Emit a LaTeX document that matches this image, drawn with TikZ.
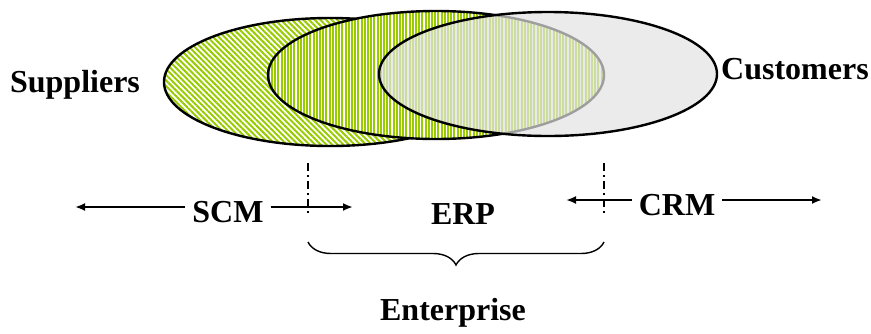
\documentclass[tikz,border=0pt]{standalone}
\usepackage{fontspec}
\setmainfont{Liberation Serif}
\usetikzlibrary{patterns.meta,decorations.pathreplacing,arrows.meta}
\definecolor{leaf}{RGB}{153,204,0}
\definecolor{mist}{RGB}{226,226,226}

\begin{document}
\begin{tikzpicture}[x=0.5pt,y=-0.5pt,
    ring/.style={line width=1.2pt},
    tag/.style={font=\fontsize{16}{18}\selectfont\bfseries, anchor=base},
    flow/.style={line width=1.2pt, -{Latex[length=5pt,width=4pt]}},
    divider/.style={line width=0.6pt, dash pattern=on 4pt off 2pt on 1pt off 2pt}]
  \useasboundingbox (0,0) rectangle (871,333);
  % --- Three overlapping areas: suppliers, enterprise, customers ---
  \draw[ring, preaction={fill=white},
        pattern={Lines[angle=-45,distance=2pt,line width=1pt]}, pattern color=leaf]
    (330,82) ellipse [x radius=166, y radius=64];
  \draw[ring, preaction={fill=white},
        pattern={Lines[angle=90,distance=1.6pt,line width=1pt]}, pattern color=leaf]
    (436,75) ellipse [x radius=168, y radius=64];
  \draw[ring, fill=mist, fill opacity=0.7]
    (548,74) ellipse [x radius=169, y radius=62];
  % Labels
  \node[tag] (suppliers)  at (75,92)   {Suppliers};
  \node[tag] (customers)  at (795,79)  {Customers};
  \node[tag] (scm)        at (228,222) {SCM};
  \node[tag] (erp)        at (463,224) {ERP};
  \node[tag] (crm)        at (677,215) {CRM};
  \node[tag] (enterprise) at (453,320) {Enterprise};
  % Reach of SCM and CRM
  \coordinate (scmfar)  at (75,207);
  \coordinate (scmnear) at (353,207);
  \coordinate (crmnear) at (566,200);
  \coordinate (crmfar)  at (822,200);
  \draw[flow] (scm.west |- scmfar)  -- (scmfar);
  \draw[flow] (scm.east |- scmnear) -- (scmnear);
  \draw[flow] (crm.west |- crmnear) -- (crmnear);
  \draw[flow] (crm.east |- crmfar)  -- (crmfar);
  % Enterprise limits and brace
  \coordinate (cutL) at (308,163);
  \coordinate (cutR) at (604,163);
  \draw[divider] (cutL) -- ++(0,50);
  \draw[divider] (cutR) -- ++(0,50);
  \draw[line width=0.7pt, decorate, decoration={brace,mirror,amplitude=11.5pt}]
    (308,242) -- (604,242);
\end{tikzpicture}
\end{document}
